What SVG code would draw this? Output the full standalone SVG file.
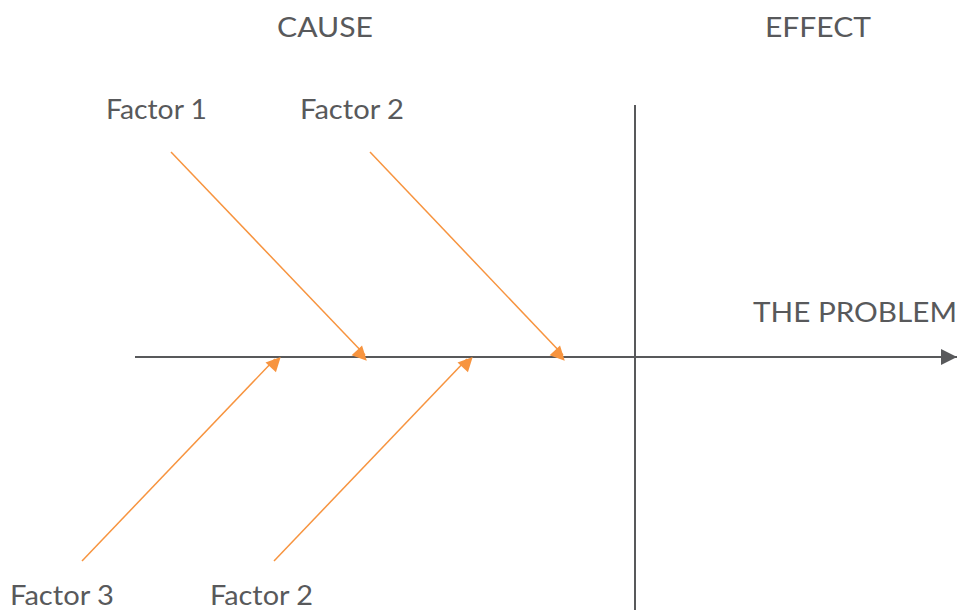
<svg xmlns="http://www.w3.org/2000/svg" width="960" height="610" viewBox="0 0 960 610">
  <style>
    .lbl { font-family: Lato, "Noto Sans", "Liberation Sans", sans-serif; font-size: 26px; fill: #58595b; }
    .axis { stroke: #58595b; stroke-width: 2; fill: none; }
    .bone { stroke: #f7943f; stroke-width: 1.5; fill: none; marker-end: url(#oarrow); }
  </style>
  <defs>
    <marker id="oarrow" viewBox="0 0 10 10" refX="10" refY="5" markerWidth="10" markerHeight="9" markerUnits="userSpaceOnUse" orient="auto" overflow="visible">
      <path d="M0,0 L10,5 L0,10 z" fill="#f7943f" transform="scale(1.6)" />
    </marker>
    <marker id="garrow" viewBox="0 0 10 10" refX="10" refY="5" markerWidth="16" markerHeight="16" markerUnits="userSpaceOnUse" orient="auto">
      <path d="M0,0 L10,5 L0,10 z" fill="#58595b" />
    </marker>
  </defs>
  <rect width="960" height="610" fill="#ffffff" />
  <g id="connectors">
    <line class="axis" x1="135" y1="357" x2="957" y2="357" marker-end="url(#garrow)" />
    <line class="axis" x1="635" y1="105" x2="635" y2="610" />
    <line class="bone" x1="171" y1="152" x2="365" y2="355" />
    <line class="bone" x1="370" y1="152" x2="563" y2="355" />
    <line class="bone" x1="82" y1="561" x2="275" y2="359" />
    <line class="bone" x1="274" y1="561" x2="467" y2="359" />
  </g>
  <g id="cause"><text class="lbl" x="277" y="37" textLength="96" lengthAdjust="spacingAndGlyphs">CAUSE</text></g>
  <g id="effect"><text class="lbl" x="765" y="37" textLength="106" lengthAdjust="spacingAndGlyphs">EFFECT</text></g>
  <g id="problem"><text class="lbl" x="753" y="322" textLength="204" lengthAdjust="spacingAndGlyphs">THE PROBLEM</text></g>
  <g id="factor1"><text class="lbl" x="106" y="119" textLength="101" lengthAdjust="spacingAndGlyphs">Factor 1</text></g>
  <g id="factor2top"><text class="lbl" x="300" y="119" textLength="104" lengthAdjust="spacingAndGlyphs">Factor 2</text></g>
  <g id="factor3"><text class="lbl" x="10" y="605" textLength="104" lengthAdjust="spacingAndGlyphs">Factor 3</text></g>
  <g id="factor2bottom"><text class="lbl" x="210" y="605" textLength="103" lengthAdjust="spacingAndGlyphs">Factor 2</text></g>
</svg>
